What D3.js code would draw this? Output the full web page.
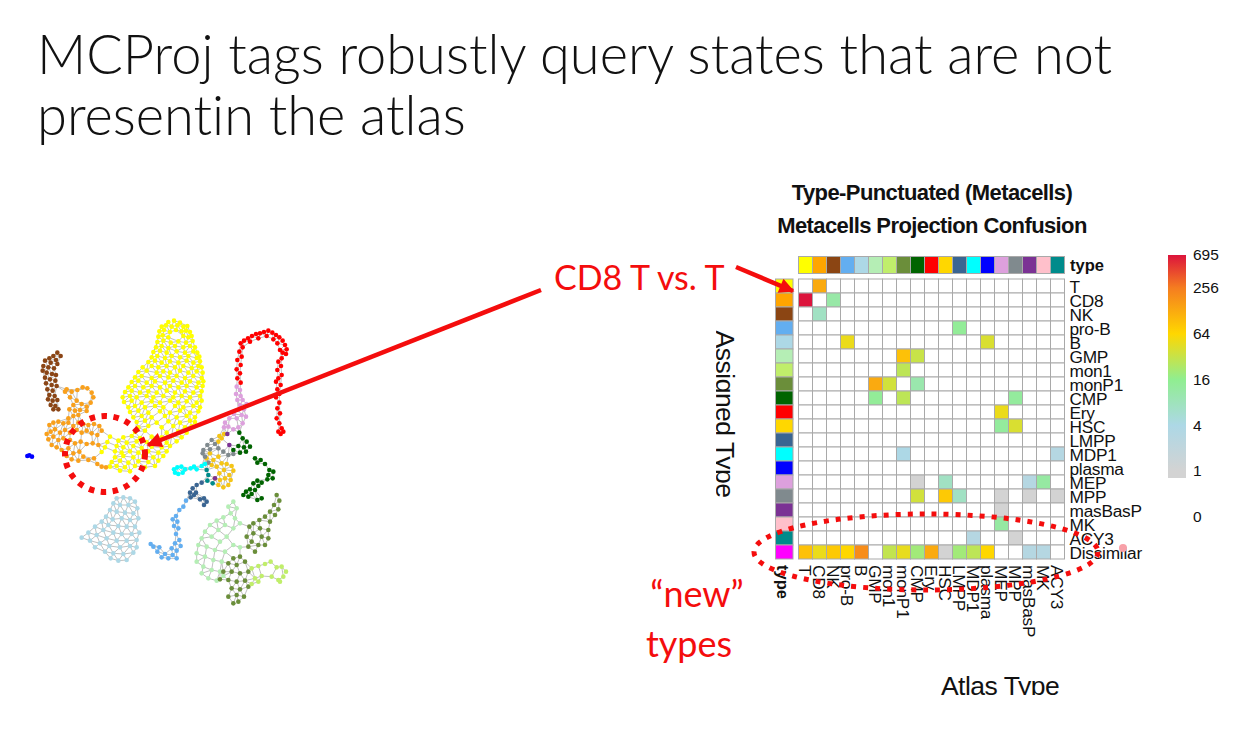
<!DOCTYPE html>
<html>
<head>
<meta charset="utf-8">
<script src="https://cdn.jsdelivr.net/npm/d3@7"></script>
<style>
  html, body { margin: 0; padding: 0; background: #fff; }
  svg { display: block; }
  .hm text { font-family: "Liberation Sans", Arial, sans-serif; fill: #111; }
  .slide { font-family: Lato, "Open Sans", sans-serif; font-variant-ligatures: none; }
</style>
</head>
<body>
<div id="chart"></div>
<script>
// heatmap categories
var rowTypes = ["T","CD8","NK","pro-B","B","GMP","mon1","monP1","CMP","Ery","HSC","LMPP","MDP1","plasma","MEP","MPP","masBasP","MK","ACY3","Dissimilar"];
var colTypes = rowTypes.slice(0, 19);
var typeColors = ["#ffff00","#ffa500","#8b4513","#63aef0","#add8e6","#b5eeb5","#c0ee6b","#6b8e3a","#006400","#ff0000","#ffd700","#3a6592","#00ffff","#0000ff","#dda0dd","#808a8e","#7b3294","#ffc0cb","#008b8b","#ff00ff"];

// confusion counts, one line per assigned type
var confusion = [
  [0,128,0,0,0,0,0,0,0,0,0,0,0,0,0,0,0,0,0],
  [695,0,11,0,0,0,0,0,0,0,0,0,0,0,0,0,0,0,0],
  [0,7,0,0,0,0,0,0,0,0,0,0,0,0,0,0,0,0,0],
  [0,0,0,0,0,0,0,0,0,0,0,14,0,0,0,0,0,0,0],
  [0,0,0,50,0,0,0,0,0,0,0,0,0,40,0,0,0,0,0],
  [0,0,0,0,0,0,0,90,32,0,0,0,0,0,0,0,0,0,0],
  [0,0,0,0,0,0,0,28,0,0,0,0,0,0,0,0,0,0,0],
  [0,0,0,0,0,128,36,0,10,0,0,0,0,0,0,0,0,0,0],
  [0,0,0,0,0,14,0,28,0,0,0,0,0,0,0,13,0,0,0],
  [0,0,0,0,0,0,0,0,0,0,0,0,0,0,50,0,0,0,0],
  [0,0,0,0,0,0,0,0,0,0,0,0,0,0,13,40,0,0,0],
  [0,0,0,0,0,0,0,0,0,0,0,0,0,0,0,0,0,0,0],
  [0,0,0,0,0,0,0,4,0,0,0,0,0,0,0,0,0,0,3],
  [0,0,0,0,0,0,0,0,0,0,0,0,0,0,0,0,0,0,0],
  [0,0,0,0,0,0,0,0,1,0,7,0,0,0,0,0,3,12,0],
  [0,0,0,0,0,0,0,0,36,0,80,7,0,0,1,0,1,0,1],
  [0,0,0,0,0,0,0,0,0,0,0,0,0,0,1,0,0,0,0],
  [0,0,0,0,0,0,0,0,0,0,0,0,0,0,12,0,0,0,0],
  [0,0,0,0,0,0,0,0,0,0,0,0,3,0,0,1,0,0,0],
  [90,50,80,64,200,0,30,48,20,128,1,20,28,64,0,0,3,3,0]
];

var legendTicks = [695,256,64,16,4,1];
var legendColors = ["#dc143c","#f57d20","#ffd700","#90ee90","#add8e6","#d3d3d3"];

// projected metacells (x, y in the picture's own units)
var cellsT = [
  [445,36],[462,32],[480,38],[425,50],[438,46],[455,50],[472,46],[490,50],[502,48],[418,64],[432,60],[450,66],[468,60],[485,64],[498,62],[510,66],
  [415,80],[428,76],[445,82],[490,78],[505,82],[515,78],[412,96],[430,92],[452,98],[475,94],[498,98],[518,93],[408,112],[425,108],[445,114],[465,108],[490,112],[510,108],[525,112],
  [400,126],[420,122],[440,128],[470,124],[495,128],[520,124],[532,128],[395,142],[412,138],[435,144],[455,138],[480,142],[505,138],[530,144],[538,140],
  [385,156],[405,152],[425,158],[450,154],[475,158],[500,152],[520,158],[540,154],[368,172],[395,168],[415,172],[440,168],[465,172],[490,168],[515,174],[535,168],[545,172],
  [355,186],[380,182],[410,188],[430,184],[450,188],[480,182],[505,188],[530,184],[548,188],[345,202],[365,198],[395,204],[420,198],[445,202],[470,198],[495,204],[520,198],[545,204],
  [335,216],[355,212],[380,218],[405,214],[435,218],[460,212],[485,218],[510,214],[535,218],[550,214],[325,232],[345,228],[370,232],[395,228],[420,232],[450,228],[475,232],[500,228],[530,232],[548,228],
  [315,246],[335,242],[360,248],[385,244],[410,248],[440,242],[465,248],[495,244],[520,248],[545,244],[308,262],[330,258],[350,262],[380,258],[400,262],[430,258],[460,262],[485,258],[510,262],[540,258],
  [312,276],[335,272],[365,278],[395,274],[420,278],[450,272],[475,278],[500,274],[530,278],[545,272],[325,292],[345,288],[375,292],[405,288],[430,292],[465,288],[490,292],[520,288],[540,292],
  [330,306],[355,302],[385,308],[420,304],[450,308],[480,302],[510,308],[535,304],[340,322],[365,318],[395,322],[435,318],[470,322],[500,318],[525,322],[350,336],[375,332],[410,338],[445,334],[480,338],[510,332],[525,336],
  [355,352],[385,348],[425,352],[460,348],[495,352],[515,348],[345,366],[375,362],[440,368],[475,364],[500,368],
  [270,380],[310,382],[335,378],[360,384],[395,380],[425,382],[455,378],[485,382],[262,396],[295,392],[320,398],[350,394],[380,396],[410,392],[440,398],[470,394],
  [255,412],[290,408],[310,412],[340,408],[365,414],[395,410],[425,412],[450,408],[245,426],[285,424],[305,428],[330,424],[355,428],[385,424],[415,428],[440,424],
  [285,442],[310,438],[340,442],[370,438],[400,442],[430,438],[275,456],[300,452],[325,458],[355,454],[385,456],[415,452],[270,470],[290,468],[315,472],[345,468],[375,472],[405,468],[300,482],[330,484]
];
var cellsCD8 = [[140,238],[155,245],[172,240],[188,232],[202,235],[215,248],[220,262],[212,278],[200,290],[185,282],[170,272],[160,285],[148,298],[165,302],[180,300],[200,303],[160,318],[145,325],[175,315],[135,245],[150,262],
  [88,345],[100,338],[115,335],[130,340],[145,338],[160,348],[175,338],[190,342],[205,345],[222,342],[238,348],[245,362],[232,375],[215,370],[200,362],[185,368],[170,360],[150,368],[135,360],[120,368],[105,358],[92,365],[80,372],[85,388],[100,380],[115,390],[130,385],[150,390],[165,400],[182,395],[200,402],[218,400],[235,405],[95,405],[110,412],[125,420],[145,415],[160,430],[178,425],[190,440],[205,450],[222,445],[232,462],[245,470],[258,472],[140,438],[155,448],[175,452]];
var cellsNK = [[112,128],[122,138],[100,138],[88,145],[108,150],[75,152],[92,158],[112,162],[70,168],[85,172],[102,175],[68,182],[80,188],[96,192],[108,195],[75,203],[90,208],[106,212],[78,220],[95,225],[110,228],[82,238],[98,242],[88,255],[104,258],[84,268],[98,272],[112,270],[92,285],[106,288],[115,298],[100,298]];
var cellsEry = [[662,100],[672,92],[684,85],[696,78],[708,72],[720,70],[732,66],[745,62],[757,68],[768,75],[778,82],[788,92],[795,105],[800,118],[798,132],[788,128],[780,120],[772,100],[785,145],[775,155],[783,168],[772,180],[785,195],[775,205],[768,215],[782,225],[772,238],[778,252],[768,262],[778,278],[772,295],[780,310],[770,325],[778,340],[785,355],[775,365],[790,365],[782,372],[668,112],[658,125],[665,140],[652,150],[662,165],[650,178],[660,190],[652,205],[662,218],[690,95],[715,85],[740,78],[760,88]];
var cellsMEP = [[650,230],[660,240],[648,252],[662,258],[652,270],[668,270],[680,282],[660,285],[672,298],[655,300],[642,312],[665,315],[678,320],[628,325],[615,338],[625,350],[640,358],[655,352],[668,340],[650,325],[612,352]];
var cellsCMP = [[658,368],[668,385],[680,395],[690,410],[672,412],[655,408],[640,420],[660,428],[678,425],[705,445],[722,450],[735,462],[712,458],[748,480],[760,485],[745,495],[758,505],[742,508],[712,512],[725,518],[700,520],[715,528],[705,540],[690,538],[678,545],[695,552],[670,555],[685,560],[725,565],[712,570]];
var cellsHSC = [[570,430],[560,445],[580,450],[595,440],[575,465],[590,470],[605,460],[620,462],[635,468],[640,482],[628,495],[612,480],[598,490],[585,505],[600,510],[615,505],[632,510],[625,525],[610,532],[595,525],[605,385],[612,372],[598,378],[595,395]];
var cellsMPP = [[550,420],[562,405],[575,390],[585,402],[570,418],[595,415],[610,425],[625,435],[640,432],[555,440],[565,458],[548,430]];
var cellsMDP1 = [[462,478],[472,472],[484,470],[495,478],[488,488],[475,492],[465,488],[512,475],[522,470],[530,478],[545,468],[555,462]];
var cellsACY3 = [[560,480],[565,495],[562,512],[578,520]];
var cellsPlasma = [[22,438],[28,436],[36,440]];
var cellsMasBasP = [[622,372],[585,505],[628,405]];
var cellsLMPP = [[545,518],[530,525],[518,535],[510,548],[522,555],[512,562],[528,548],[540,568],[552,565],[560,575],[552,585]];
var cellsProB = [[498,572],[490,590],[478,600],[468,618],[458,628],[472,635],[462,648],[475,655],[468,672],[478,690],[465,700],[482,708],[470,722],[458,735],[445,745],[435,732],[425,742],[412,725],[400,710],[392,702],[418,712],[470,745],[455,715]];
var cellsB = [[290,565],[310,562],[330,565],[345,575],[280,580],[300,585],[325,585],[352,595],[270,600],[290,605],[315,608],[340,610],[258,620],[278,628],[305,625],[330,630],[355,625],[245,635],[265,645],[295,648],[320,650],[345,650],[225,650],[250,660],[280,668],[305,672],[335,672],[358,668],[205,668],[230,675],[260,685],[290,692],[320,692],[350,690],[185,683],[210,692],[240,700],[268,708],[300,712],[330,708],[350,712],[225,712],[255,725],[280,730],[310,732],[340,728],[272,745],[295,752],[320,750]];
var cellsGMP = [[640,575],[625,590],[650,595],[632,610],[610,622],[645,625],[590,632],[615,645],[570,645],[595,660],[640,655],[555,665],[575,680],[620,680],[660,640],[545,685],[600,695],[640,705],[660,712],[535,705],[560,710],[585,720],[615,725],[530,730],[555,740],[580,750],[605,755],[530,755],[550,770],[575,780],[600,785],[545,790],[565,805],[590,812],[610,798]];
var cellsMonP1 = [[770,555],[778,572],[762,585],[775,598],[750,605],[765,615],[735,620],[750,635],[718,630],[700,640],[688,650],[720,655],[745,660],[700,670],[680,680],[725,680],[745,685],[695,695],[715,705],[735,705],[685,710],[705,725],[640,745],[660,740],[625,760],[650,765],[675,755],[610,785],[635,785],[660,790],[685,785],[600,808],[625,810],[650,815],[675,812],[635,835],[660,838],[685,830],[625,860],[650,855],[672,860],[640,880],[655,875]];
var cellsMon1 = [[695,775],[715,768],[735,762],[752,755],[770,772],[785,770],[798,785],[790,800],[775,810],[755,800],[725,798],[705,805],[695,822],[715,815],[780,815]];

var cellGroups = [
  {cells: cellsT, color: typeColors[0]},
  {cells: cellsCD8, color: "#f9a01b"},
  {cells: cellsNK, color: typeColors[2]},
  {cells: cellsEry, color: typeColors[9]},
  {cells: cellsMEP, color: typeColors[14]},
  {cells: cellsCMP, color: typeColors[8]},
  {cells: cellsHSC, color: "#f5c518"},
  {cells: cellsMPP, color: typeColors[15]},
  {cells: cellsMDP1, color: typeColors[12]},
  {cells: cellsACY3, color: typeColors[18]},
  {cells: cellsPlasma, color: typeColors[13]},
  {cells: cellsMasBasP, color: typeColors[16]},
  {cells: cellsLMPP, color: typeColors[11]},
  {cells: cellsProB, color: typeColors[3]},
  {cells: cellsB, color: typeColors[4]},
  {cells: cellsGMP, color: typeColors[5]},
  {cells: cellsMonP1, color: typeColors[7]},
  {cells: cellsMon1, color: typeColors[6]}
];

var svgWidth = 1249;
var svgHeight = 747;
var red = "#f40d0d";

var svg = d3.select("#chart").append("svg")
  .attr("width", svgWidth)
  .attr("height", svgHeight);
var defs = svg.append("defs");

// ---- slide title
var title = svg.append("g").attr("class", "slide").attr("font-size", 54.2).attr("font-weight", 300).attr("fill", "#111");
title.append("text").attr("x", 37).attr("y", 74).text("MCProj tags robustly query states that are not");
title.append("text").attr("x", 37).attr("y", 135).text("presentin the atlas");

// ---- metacell graph
defs.append("filter").attr("id", "soft").append("feGaussianBlur").attr("stdDeviation", 0.45);
var graphX = d3.scaleLinear().domain([0, 900]).range([20, 320]);
var graphY = d3.scaleLinear().domain([0, 900]).range([310, 610]);
var graph = svg.append("g").attr("filter", "url(#soft)");

var allCells = [];
cellGroups.forEach(function(g) {
  g.cells.forEach(function(c) { allCells.push({x: graphX(c[0]), y: graphY(c[1]), color: g.color}); });
});

// edges: neighbours from the triangulation, long ones dropped
var delaunay = d3.Delaunay.from(allCells, d => d.x, d => d.y);
var edges = [];
for (var i = 0; i < delaunay.halfedges.length; i++) {
  var j = delaunay.halfedges[i];
  if (j < i) continue;
  var a = allCells[delaunay.triangles[i]];
  var b = allCells[delaunay.triangles[j]];
  if (Math.hypot(a.x - b.x, a.y - b.y) < 11) edges.push([a, b]);
}
graph.selectAll("line").data(edges).enter().append("line")
  .attr("x1", d => d[0].x).attr("y1", d => d[0].y)
  .attr("x2", d => d[1].x).attr("y2", d => d[1].y)
  .attr("stroke", "#b0b0b0").attr("stroke-width", 0.8);

graph.selectAll("circle").data(allCells).enter().append("circle")
  .attr("cx", d => d.x).attr("cy", d => d.y)
  .attr("r", 2.3).attr("fill", d => d.color);

// ---- confusion heatmap
var hm = svg.append("g").attr("class", "hm");
var cellSize = 14;
var x0 = 798.5, y0 = 279;
var xBand = d3.scaleBand().domain(colTypes).range([x0, x0 + cellSize * colTypes.length]);
var yBand = d3.scaleBand().domain(rowTypes).range([y0, y0 + cellSize * rowTypes.length]);

var colorScale = d3.scaleLog()
  .domain(legendTicks.slice().reverse())
  .range(legendColors.slice().reverse())
  .clamp(true);
var cellFill = v => v === 0 ? "#fff" : colorScale(v);

var gridCells = [];
confusion.forEach(function(row, r) {
  row.forEach(function(v, c) { gridCells.push({row: rowTypes[r], col: colTypes[c], v: v}); });
});
hm.selectAll("rect.cell").data(gridCells).enter().append("rect")
  .attr("class", "cell")
  .attr("x", d => xBand(d.col)).attr("y", d => yBand(d.row))
  .attr("width", xBand.bandwidth()).attr("height", yBand.bandwidth())
  .attr("fill", d => cellFill(d.v))
  .attr("stroke", "#a9a9a9").attr("stroke-width", 1);

// annotation strips
hm.selectAll("rect.topstrip").data(colTypes).enter().append("rect")
  .attr("class", "topstrip")
  .attr("x", d => xBand(d)).attr("y", 256.5)
  .attr("width", xBand.bandwidth()).attr("height", 17)
  .attr("fill", (d, i) => typeColors[i])
  .attr("stroke", "#a9a9a9").attr("stroke-width", 1);
hm.selectAll("rect.leftstrip").data(rowTypes).enter().append("rect")
  .attr("class", "leftstrip")
  .attr("x", 775.5).attr("y", d => yBand(d))
  .attr("width", 17.5).attr("height", yBand.bandwidth())
  .attr("fill", (d, i) => typeColors[i])
  .attr("stroke", "#a9a9a9").attr("stroke-width", 1);

// row labels
var rowAxis = hm.append("g")
  .attr("transform", "translate(1064.5,0)")
  .call(d3.axisRight(yBand).tickSize(0).tickPadding(5));
rowAxis.select(".domain").remove();
rowAxis.selectAll("text").attr("font-size", 17.3).attr("dy", "0.4em").attr("letter-spacing", -0.25);

// column labels, rotated to read downwards
var colAxis = hm.append("g")
  .attr("transform", "translate(0,559)")
  .call(d3.axisBottom(xBand).tickSize(0).tickPadding(0));
colAxis.select(".domain").remove();
colAxis.selectAll("text")
  .attr("font-size", 17.3)
  .attr("letter-spacing", -0.25)
  .attr("text-anchor", "start")
  .attr("dy", "0.36em")
  .attr("transform", "translate(0,6) rotate(90)")
  .attr("x", 0).attr("y", 0);

hm.append("text").attr("x", 1070).attr("y", 271).attr("font-size", 16.5).attr("font-weight", "bold").text("type");
hm.append("text").attr("transform", "translate(777,565) rotate(90)")
  .attr("font-size", 16.5).attr("font-weight", "bold").text("type");

// headings
hm.append("text").attr("x", 932).attr("y", 200).attr("text-anchor", "middle")
  .attr("font-size", 22).attr("font-weight", "bold").attr("letter-spacing", -0.6).text("Type-Punctuated (Metacells)");
hm.append("text").attr("x", 932).attr("y", 233).attr("text-anchor", "middle")
  .attr("font-size", 22).attr("font-weight", "bold").attr("letter-spacing", -0.6).text("Metacells Projection Confusion");

// axis titles, clipped as in the pasted picture
defs.append("clipPath").attr("id", "clipY").append("rect").attr("x", 716).attr("y", 300).attr("width", 40).attr("height", 220);
defs.append("clipPath").attr("id", "clipX").append("rect").attr("x", 900).attr("y", 660).attr("width", 200).attr("height", 35);
hm.append("g").attr("clip-path", "url(#clipY)").append("text")
  .attr("transform", "translate(716,414) rotate(90)")
  .attr("text-anchor", "middle").attr("font-size", 26.5).attr("letter-spacing", -0.5).text("Assigned Type");
hm.append("g").attr("clip-path", "url(#clipX)").append("text")
  .attr("x", 1000).attr("y", 695).attr("text-anchor", "middle")
  .attr("font-size", 26.5).attr("letter-spacing", -0.5).text("Atlas Type");

// ---- colour legend
var legendY = d3.scaleLog().domain([1, 695]).range([471, 255]);
var legend = hm.append("g");
var gradient = defs.append("linearGradient").attr("id", "legendGrad")
  .attr("x1", 0).attr("y1", 1).attr("x2", 0).attr("y2", 0);
legendTicks.slice().reverse().forEach(function(t) {
  gradient.append("stop")
    .attr("offset", (471 - legendY(t)) / (471 - 255))
    .attr("stop-color", colorScale(t));
});
legend.append("rect").attr("x", 1168).attr("y", legendY(695))
  .attr("width", 18).attr("height", legendY(1) - legendY(695))
  .attr("fill", "url(#legendGrad)");
legend.append("rect").attr("x", 1168).attr("y", legendY(1))
  .attr("width", 18).attr("height", 7).attr("fill", colorScale(1));

var legendAxis = legend.append("g")
  .attr("transform", "translate(1186,0)")
  .call(d3.axisRight(legendY).tickValues(legendTicks).tickFormat(d3.format("d")).tickSize(0).tickPadding(7));
legendAxis.select(".domain").remove();
legendAxis.selectAll("text").attr("font-size", 15.5);
legend.append("text").attr("x", 1193).attr("y", 522).attr("font-size", 15.5).text("0");

// ---- red annotations
var notes = svg.append("g");
defs.append("marker").attr("id", "head").attr("viewBox", "0 0 10 10")
  .attr("refX", 9).attr("refY", 5).attr("markerUnits", "userSpaceOnUse")
  .attr("markerWidth", 20).attr("markerHeight", 15).attr("orient", "auto")
  .append("path").attr("d", "M0,0L10,5L0,10Z").attr("fill", red);

notes.append("line").attr("x1", 541).attr("y1", 290).attr("x2", 148).attr("y2", 445)
  .attr("stroke", red).attr("stroke-width", 4.5).attr("marker-end", "url(#head)");
notes.append("line").attr("x1", 736).attr("y1", 267).attr("x2", 793).attr("y2", 291)
  .attr("stroke", red).attr("stroke-width", 4.5).attr("marker-end", "url(#head)");

notes.append("ellipse").attr("cx", 105).attr("cy", 454).attr("rx", 40).attr("ry", 38)
  .attr("fill", "none").attr("stroke", red).attr("stroke-width", 6).attr("stroke-dasharray", "5.5 6.5");
notes.append("ellipse").attr("cx", 926).attr("cy", 552).attr("rx", 172).attr("ry", 38)
  .attr("fill", "none").attr("stroke", red).attr("stroke-width", 5).attr("stroke-dasharray", "5 7");
notes.append("circle").attr("cx", 1123).attr("cy", 548).attr("r", 4).attr("fill", "#f8a0a8");

var noteText = notes.append("g").attr("class", "slide").attr("fill", red).attr("font-size", 34);
noteText.append("text").attr("x", 554).attr("y", 290).text("CD8 T vs. T");
noteText.append("text").attr("x", 697).attr("y", 607).attr("text-anchor", "middle").attr("font-size", 36).text("\u201cnew\u201d");
noteText.append("text").attr("x", 689).attr("y", 657).attr("text-anchor", "middle").attr("font-size", 36).text("types");
</script>
</body>
</html>
